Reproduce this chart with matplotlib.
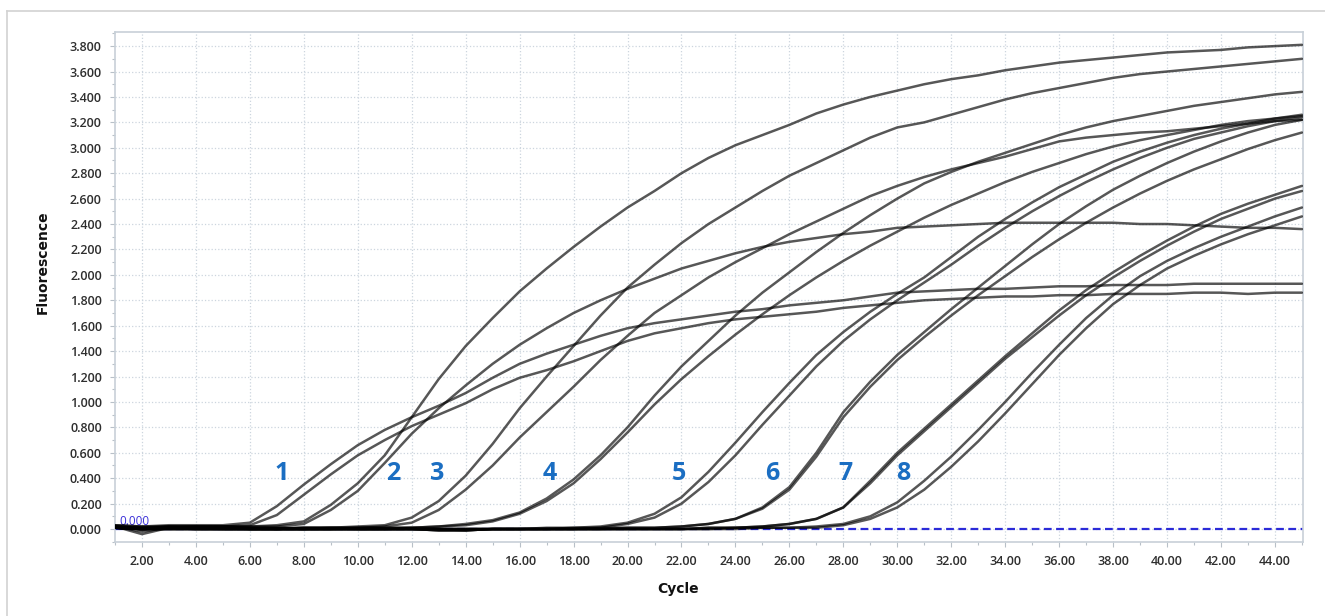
import matplotlib
matplotlib.use('Agg')
import matplotlib.pyplot as plt
from matplotlib.ticker import MultipleLocator, FormatStrFormatter
from matplotlib.lines import Line2D

cycles = list(range(1, 46))

g1a = [0.03, 0.02, 0.03, 0.03, 0.03, 0.05, 0.18, 0.35, 0.51, 0.66,
       0.78, 0.88, 0.97, 1.07, 1.19, 1.30, 1.38, 1.45, 1.52, 1.58,
       1.62, 1.65, 1.68, 1.71, 1.73, 1.76, 1.78, 1.80, 1.83, 1.86,
       1.87, 1.88, 1.89, 1.89, 1.90, 1.91, 1.91, 1.92, 1.92, 1.92,
       1.93, 1.93, 1.93, 1.93, 1.93]
g1b = [0.02, -0.02, 0.01, 0.02, 0.02, 0.03, 0.11, 0.27, 0.43, 0.58,
       0.70, 0.81, 0.90, 0.99, 1.10, 1.19, 1.25, 1.32, 1.40, 1.48,
       1.54, 1.58, 1.62, 1.65, 1.67, 1.69, 1.71, 1.74, 1.76, 1.78,
       1.80, 1.81, 1.82, 1.83, 1.83, 1.84, 1.84, 1.85, 1.85, 1.85,
       1.86, 1.86, 1.85, 1.86, 1.86]
g2a = [0.02, 0.01, 0.02, 0.02, 0.02, 0.02, 0.03, 0.06, 0.19, 0.36,
       0.58, 0.88, 1.18, 1.44, 1.66, 1.87, 2.05, 2.22, 2.38, 2.53,
       2.66, 2.80, 2.92, 3.02, 3.10, 3.18, 3.27, 3.34, 3.40, 3.45,
       3.50, 3.54, 3.57, 3.61, 3.64, 3.67, 3.69, 3.71, 3.73, 3.75,
       3.76, 3.77, 3.79, 3.80, 3.81]
g2b = [0.02, -0.04, 0.01, 0.01, 0.02, 0.02, 0.02, 0.04, 0.15, 0.30,
       0.52, 0.75, 0.95, 1.13, 1.30, 1.45, 1.58, 1.70, 1.80, 1.89,
       1.97, 2.05, 2.11, 2.17, 2.22, 2.26, 2.29, 2.32, 2.34, 2.37,
       2.38, 2.39, 2.40, 2.41, 2.41, 2.41, 2.41, 2.41, 2.40, 2.40,
       2.39, 2.38, 2.37, 2.37, 2.36]
g3a = [0.03, 0.02, 0.02, 0.02, 0.02, 0.01, 0.01, 0.01, 0.01, 0.02,
       0.03, 0.09, 0.22, 0.42, 0.67, 0.95, 1.20, 1.44, 1.68, 1.90,
       2.08, 2.25, 2.40, 2.53, 2.66, 2.78, 2.88, 2.98, 3.08, 3.16,
       3.20, 3.26, 3.32, 3.38, 3.43, 3.47, 3.51, 3.55, 3.58, 3.60,
       3.62, 3.64, 3.66, 3.68, 3.70]
g3b = [0.01, 0.00, 0.01, 0.02, 0.02, 0.01, 0.00, 0.01, 0.01, 0.01,
       0.02, 0.05, 0.15, 0.31, 0.50, 0.72, 0.92, 1.12, 1.33, 1.52,
       1.70, 1.84, 1.98, 2.10, 2.21, 2.32, 2.42, 2.52, 2.62, 2.70,
       2.77, 2.83, 2.88, 2.93, 2.99, 3.05, 3.08, 3.10, 3.12, 3.13,
       3.15, 3.17, 3.19, 3.21, 3.22]
g4a = [0.02, 0.00, 0.02, 0.01, 0.01, 0.01, 0.01, 0.00, 0.00, 0.01,
       0.01, 0.01, 0.02, 0.04, 0.07, 0.13, 0.24, 0.39, 0.58, 0.80,
       1.05, 1.28, 1.48, 1.68, 1.86, 2.02, 2.18, 2.33, 2.47, 2.60,
       2.72, 2.81, 2.89, 2.96, 3.03, 3.10, 3.16, 3.21, 3.25, 3.29,
       3.33, 3.36, 3.39, 3.42, 3.44]
g4b = [0.02, 0.01, 0.02, 0.02, 0.01, 0.00, 0.00, 0.00, 0.01, 0.01,
       0.01, 0.01, 0.02, 0.03, 0.06, 0.12, 0.22, 0.36, 0.55, 0.76,
       0.98, 1.18, 1.36, 1.53, 1.69, 1.84, 1.98, 2.11, 2.23, 2.34,
       2.45, 2.55, 2.64, 2.73, 2.81, 2.88, 2.95, 3.01, 3.06, 3.10,
       3.14, 3.18, 3.21, 3.23, 3.25]
g5a = [0.01, 0.00, 0.01, 0.01, 0.00, 0.00, 0.00, 0.01, 0.01, 0.00,
       0.00, 0.01, 0.00, -0.01, 0.00, 0.00, 0.01, 0.01, 0.02, 0.05,
       0.12, 0.25, 0.45, 0.68, 0.92, 1.15, 1.37, 1.55, 1.71, 1.85,
       1.98, 2.14, 2.30, 2.44, 2.57, 2.69, 2.79, 2.89, 2.97, 3.04,
       3.10, 3.15, 3.19, 3.23, 3.26]
g5b = [0.02, 0.01, 0.01, 0.01, 0.01, 0.00, 0.00, 0.00, 0.00, 0.00,
       0.00, 0.00, -0.01, -0.01, 0.00, 0.00, 0.00, 0.01, 0.01, 0.04,
       0.09, 0.20, 0.37, 0.58, 0.82, 1.05, 1.28, 1.48, 1.65, 1.80,
       1.94, 2.08, 2.23, 2.37, 2.50, 2.62, 2.73, 2.83, 2.92, 3.00,
       3.07, 3.12, 3.17, 3.21, 3.24]
g6a = [0.01, 0.00, 0.01, 0.00, 0.00, 0.00, 0.00, 0.00, 0.00, 0.00,
       0.00, 0.00, 0.00, 0.00, 0.00, 0.00, 0.00, 0.00, 0.01, 0.01,
       0.01, 0.02, 0.04, 0.08, 0.17, 0.33, 0.60, 0.92, 1.16, 1.37,
       1.55, 1.73, 1.90, 2.07, 2.24, 2.40, 2.54, 2.67, 2.78, 2.88,
       2.97, 3.05, 3.12, 3.18, 3.22]
g6b = [0.01, 0.00, 0.00, 0.00, 0.00, 0.00, 0.00, 0.00, 0.00, 0.00,
       0.00, 0.00, 0.00, 0.00, 0.00, 0.00, 0.00, 0.00, 0.00, 0.01,
       0.01, 0.02, 0.04, 0.08, 0.16, 0.31, 0.57, 0.88, 1.12, 1.33,
       1.51, 1.68, 1.84, 1.99, 2.14, 2.28, 2.41, 2.53, 2.64, 2.74,
       2.83, 2.91, 2.99, 3.06, 3.12]
g7a = [0.01, 0.00, 0.00, 0.00, 0.00, 0.00, 0.00, 0.00, 0.00, 0.00,
       0.00, 0.00, 0.00, 0.00, 0.00, 0.00, 0.00, 0.00, 0.00, 0.00,
       0.00, 0.00, 0.01, 0.01, 0.02, 0.04, 0.08, 0.17, 0.38, 0.60,
       0.79, 0.98, 1.17, 1.36, 1.54, 1.72, 1.88, 2.02, 2.15, 2.27,
       2.38, 2.48, 2.56, 2.63, 2.70]
g7b = [0.01, 0.00, 0.00, 0.00, 0.00, 0.00, 0.00, 0.00, 0.00, 0.00,
       0.00, 0.00, 0.00, 0.00, 0.00, 0.00, 0.00, 0.00, 0.00, 0.00,
       0.00, 0.00, 0.01, 0.01, 0.02, 0.04, 0.08, 0.17, 0.36, 0.58,
       0.77, 0.96, 1.15, 1.34, 1.51, 1.68, 1.84, 1.98, 2.11, 2.23,
       2.34, 2.44, 2.52, 2.60, 2.66]
g8a = [0.01, 0.00, 0.01, 0.00, 0.00, 0.00, 0.00, 0.00, 0.00, 0.00,
       0.00, 0.00, -0.01, -0.01, 0.00, 0.00, 0.00, 0.00, 0.00, 0.00,
       0.00, 0.00, 0.00, 0.01, 0.01, 0.01, 0.02, 0.04, 0.10, 0.21,
       0.38, 0.57, 0.78, 1.00, 1.23, 1.45, 1.66, 1.84, 1.99, 2.11,
       2.21, 2.30, 2.38, 2.46, 2.53]
g8b = [0.01, 0.00, 0.00, 0.00, 0.00, 0.00, 0.00, 0.00, 0.00, 0.00,
       0.00, 0.00, -0.01, -0.01, 0.00, 0.00, 0.00, 0.00, 0.00, 0.00,
       0.00, 0.00, 0.00, 0.00, 0.01, 0.01, 0.01, 0.03, 0.08, 0.17,
       0.31, 0.49, 0.69, 0.91, 1.14, 1.37, 1.58, 1.77, 1.92, 2.05,
       2.15, 2.24, 2.32, 2.39, 2.46]

series = [g1a, g1b, g2a, g2b, g3a, g3b, g4a, g4b,
          g5a, g5b, g6a, g6b, g7a, g7b, g8a, g8b]

group_labels = ['1', '2', '3', '4', '5', '6', '7', '8']
group_label_x = [7.19, 11.30, 12.93, 17.12, 21.90, 25.35, 28.09, 30.21]
group_label_y = 0.44

threshold = 0.0
x_ticks = list(range(2, 45, 2))

W, H = 1325, 616
fig = plt.figure(figsize=(W / 100, H / 100), dpi=100)
fig.patch.set_facecolor('white')

# outer light frame
fig.add_artist(Line2D([7 / W, 7 / W], [0, 1 - 11 / H], transform=fig.transFigure,
                      color='#d2d2d2', lw=1.2))
fig.add_artist(Line2D([7 / W, 1], [1 - 11 / H, 1 - 11 / H], transform=fig.transFigure,
                      color='#d2d2d2', lw=1.2))

ax = fig.add_axes([115 / W, 1 - 542 / H, (1303 - 115) / W, (542 - 32) / H])
ax.set_xlim(1.0, 45.04)
ax.set_ylim(-0.102, 3.911)

ax.yaxis.set_major_locator(MultipleLocator(0.2))
ax.yaxis.set_minor_locator(MultipleLocator(0.1))
ax.set_xticks(x_ticks)
ax.xaxis.set_minor_locator(MultipleLocator(1))
ax.xaxis.set_major_formatter(FormatStrFormatter('%.2f'))
ax.yaxis.set_major_formatter(FormatStrFormatter('%.3f'))

ax.grid(True, which='major', color='#ccd5de', linestyle=':', linewidth=0.9)
ax.set_axisbelow(True)
for s in ax.spines.values():
    s.set_color('#c8d0d8')
    s.set_linewidth(1.2)

ax.tick_params(which='both', direction='out', color='#b8c0c8', width=0.8)
ax.tick_params(which='major', length=3.5, pad=6)
ax.tick_params(which='minor', length=2.5)
for lab in ax.get_xticklabels() + ax.get_yticklabels():
    lab.set_fontfamily('Open Sans')
    lab.set_fontsize(9)
    lab.set_color('#2e2e2e')
    lab.set_fontweight('semibold')

ax.axhline(threshold, color='#2b2bd8', lw=1.6, linestyle=(0, (3.5, 2.0)), zorder=2)
ax.text(1.15, 0.006, '0.000', color='#3a2fd8', fontsize=8.5, fontfamily='Open Sans',
        ha='left', va='bottom', zorder=2)

for ys in series:
    ax.plot(cycles, ys, color='black', alpha=0.66, lw=1.8, solid_joinstyle='round',
            solid_capstyle='round', zorder=3)

for lab, lx in zip(group_labels, group_label_x):
    ax.text(lx, group_label_y, lab, color='#1b6ec2', fontsize=18, fontweight='bold',
            fontfamily='Open Sans', ha='center', va='center', zorder=5)

fig.text(43 / W, 1 - 262 / H, 'Fluorescence', rotation=90, ha='center', va='center',
         fontsize=10, fontweight='bold', fontfamily='DejaVu Sans', color='#111111')
fig.text(678 / W, 1 - 589 / H, 'Cycle', ha='center', va='center',
         fontsize=10, fontweight='bold', fontfamily='DejaVu Sans', color='#111111')

fig.savefig('out.png', dpi=100, facecolor='white')
